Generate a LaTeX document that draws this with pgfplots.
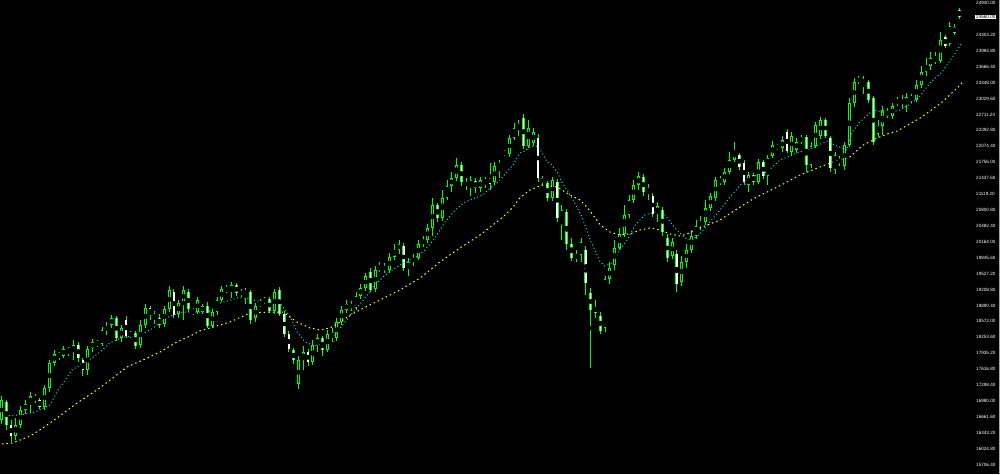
\documentclass[border=0pt]{standalone}
\usepackage{fontspec}
\setmainfont{Liberation Sans}
\usepackage{pgfplots}
\usepackage{pgfplotstable}
\pgfplotsset{compat=1.18}
\definecolor{cgreen}{RGB}{0,255,0}
\definecolor{ccyan}{RGB}{0,230,245}
\definecolor{cyel}{RGB}{255,255,0}

\pgfplotstableread{
i o h l c
0 16600 17080 16520 17000
1 16960 17000 16400 16500
2 16500 16600 16160 16280
3 16280 16640 16200 16500
4 16500 16880 16440 16800
5 16800 17000 16720 16920
6 16920 17160 16740 17080
7 17080 17120 16940 17000
8 17000 17040 16820 16860
9 16860 17300 16800 17240
10 17240 17800 17160 17740
11 17740 18000 17680 17920
12 17920 17960 17800 17880
13 17880 18080 17840 18020
14 18020 18060 17880 17960
15 17960 18200 17800 18100
16 18100 18160 17760 17840
17 17800 17840 17480 17600
18 17600 18080 17500 18020
19 18040 18220 17960 18160
20 18160 18200 18060 18100
21 18120 18460 18080 18400
22 18400 18560 18300 18480
23 18500 18700 18440 18640
24 18640 18680 18180 18240
25 18240 18500 18160 18440
26 18600 18680 18240 18280
27 18280 18380 18240 18340
28 18340 18380 18020 18080
29 18100 18600 18040 18500
30 18500 18920 18440 18840
31 18840 18880 18600 18720
32 18720 18780 18520 18640
33 18640 18720 18440 18500
34 18520 18880 18460 18820
35 18820 19280 18760 19200
36 19160 19220 18640 18700
37 18720 19000 18640 18940
38 18940 19280 18600 19200
39 19160 19220 18760 18820
40 18800 18840 18700 18740
41 18760 19060 18720 19000
42 18760 18920 18720 18880
43 18880 18960 18440 18480
44 18480 18820 18440 18760
45 18760 19060 18700 19000
46 19000 19280 18960 19220
47 19240 19300 19140 19180
48 19180 19360 19040 19300
49 19300 19340 19080 19140
50 19160 19220 19060 19120
51 19120 19240 18920 19180
52 19160 19200 18520 18600
53 18640 18940 18560 18880
54 18880 19020 18860 18960
55 18960 19060 18920 19000
56 19020 19060 18740 18780
57 18780 19220 18720 19160
58 19200 19260 18680 18720
59 18720 18780 18260 18320
60 18320 18380 17960 18020
61 18000 18040 17720 17800
62 17320 17880 17220 17800
63 17800 18080 17600 17960
64 17960 18020 17680 17760
65 17760 18200 17700 18100
66 18100 18320 17960 18240
67 18240 18280 17880 18000
68 18000 18400 17960 18320
69 18320 18440 18160 18240
70 18240 18640 18180 18560
71 18560 18880 18500 18800
72 18800 19000 18740 18920
73 18920 18980 18780 18840
74 18840 19160 18800 19080
75 19080 19320 19020 19240
76 19240 19540 19180 19480
77 19560 19640 19160 19200
78 19220 19680 19160 19600
79 19600 19760 19560 19680
80 19680 19740 19540 19600
81 19600 19940 19540 19860
82 19860 20120 19800 20000
83 20000 20200 19920 20120
84 20080 20140 19580 19640
85 19640 19840 19480 19760
86 19760 19920 19680 19840
87 19840 20200 19800 20120
88 20120 20280 20060 20200
89 20200 20520 20140 20440
90 20440 21040 20280 20900
91 20900 20940 20560 20640
92 20640 21200 20580 21040
93 21040 21400 21000 21280
94 21280 21560 21160 21440
95 21440 21840 21380 21700
96 21700 21760 21280 21360
97 21360 21440 21200 21280
98 21280 21480 21080 21400
99 21380 21440 21140 21240
100 21240 21460 21160 21400
101 21400 21460 21240 21340
102 21440 21740 21200 21320
103 21360 21760 21300 21680
104 21680 21800 21440 21720
105 21960 22000 21880 21920
106 21920 22300 21860 22240
107 22240 22540 22200 22440
108 22440 22600 22280 22520
109 22640 22720 22020 22080
110 22080 22600 22040 22440
111 22140 22440 22080 22360
112 22240 22320 21360 21440
113 21440 21480 21280 21340
114 21340 21380 20980 21040
115 21040 21460 20980 21400
116 21360 21420 20560 20640
117 20500 20900 20200 20800
118 20760 20820 20000 20120
119 20120 20240 19780 19840
120 19840 20000 19760 19900
121 19900 20240 19760 20160
122 20000 20080 19100 19340
123 19140 19240 17640 18800
124 18860 19000 18640 18740
125 18680 18760 18320 18380
126 18440 19480 18360 19420
127 19420 19760 19320 19640
128 19700 20200 19600 20040
129 20040 20440 20000 20320
130 20320 20900 20260 20700
131 20700 21100 20640 21000
132 21000 21400 20940 21300
133 21300 21560 21200 21480
134 21460 21520 21080 21160
135 21160 21320 21000 21240
136 21080 21140 20660 20720
137 20720 20960 20560 20880
138 20800 20860 20280 20360
139 20240 20320 19760 19840
140 19880 20240 19820 20160
141 19920 20000 19160 19320
142 19360 19880 19280 19760
143 19760 20120 19640 20000
144 20000 20400 19940 20280
145 20280 20600 20220 20480
146 20480 20680 20400 20560
147 20560 21000 20500 20840
148 20840 21140 20780 21080
149 21040 21460 20980 21400
150 21400 21480 21300 21360
151 21360 21640 21300 21560
152 21560 21960 21520 21800
153 21800 22160 21760 22000
154 21900 21940 21600 21660
155 21740 21800 21300 21360
156 21300 21560 21160 21500
157 21500 21540 21300 21360
158 21360 21820 21320 21760
159 21760 21800 21420 21480
160 21480 21900 21300 21840
161 21880 22180 21840 22100
162 22080 22120 22000 22040
163 22040 22280 21960 22200
164 22360 22420 21940 21980
165 21960 22360 21880 22280
166 22000 22240 21940 22160
167 22160 22300 22120 22260
168 22260 22300 21560 21700
169 21700 22160 21640 22080
170 22080 22560 22040 22500
171 22280 22660 22220 22600
172 22600 22640 22240 22280
173 22240 22280 21560 21640
174 21600 21960 21520 21900
175 21800 21880 21680 21760
176 21680 22160 21600 22100
177 22100 23040 22060 22940
178 22940 23440 22860 23360
179 23440 23480 23320 23360
180 23340 23480 23120 23400
181 23360 23400 22940 23000
182 23040 23080 22100 22160
183 22320 22600 22260 22480
184 22480 22880 22300 22800
185 22780 22840 22640 22680
186 22680 22940 22620 22880
187 22920 23060 22880 23000
188 23000 23100 22840 22920
189 22920 23140 22760 23060
190 23060 23120 22940 23000
191 23000 23400 22960 23300
192 23300 23680 23240 23560
193 23560 23840 23480 23680
194 23680 23960 23600 23840
195 23840 23960 23720 23780
196 23780 24360 23740 24200
197 24260 24300 24040 24080
198 24120 24560 24080 24480
199 24460 24520 24300 24340
200 24800 24840 24620 24660
}\candles

\begin{document}
\begin{tikzpicture}
\useasboundingbox (0,0) rectangle (1000pt,474pt);
\fill[black] (0,0) rectangle (1000pt,474pt);
\begin{axis}[
  at={(0,0)}, anchor=south west,
  scale only axis, width=966pt, height=474pt,
  xmin=-0.313, xmax=201.36, ymin=15520, ymax=25000,
  axis line style={draw=none},
  xtick=\empty,
  scaled y ticks=false,
  ytick={24940,24303.2,23984.8,23666.4,23348,23029.6,22711.2,22392.8,22074.4,21756,21437.6,21119.2,20800.8,20482.4,20164,19845.6,19527.2,19208.8,18890.4,18572,18253.6,17935.2,17616.8,17298.4,16980,16661.6,16343.2,16024.8,15706.4},
  extra y ticks={24660},
  extra y tick style={yticklabel style={fill=white, text=black, inner xsep=1pt, inner ysep=0.8pt, xshift=-1pt}},
  yticklabel pos=right,
  major tick length=0pt,
  yticklabel style={font=\fontsize{4.6}{5}\selectfont, text=white, anchor=west, inner sep=0pt, xshift=10pt,
    /pgf/number format/fixed, /pgf/number format/fixed zerofill, /pgf/number format/precision=2,
    /pgf/number format/1000 sep={}, /pgf/number format/assume math mode=true},
]
% wicks
\addplot[only marks, mark=none, forget plot,
  error bars/.cd, y dir=both, y explicit, error mark=none,
  error bar style={line width=0.9pt, draw=cgreen}]
  table[x=i, y expr={(\thisrow{h}+\thisrow{l})/2}, y error expr={(\thisrow{h}-\thisrow{l})/2}] {\candles};
% body outline
\addplot[only marks, mark=none, forget plot,
  error bars/.cd, y dir=both, y explicit, error mark=none,
  error bar style={line width=2.8pt, draw=cgreen}]
  table[x=i, y expr={(\thisrow{o}+\thisrow{c})/2}, y error expr={abs(\thisrow{o}-\thisrow{c})/2+8}] {\candles};
% bull bodies (black)
\addplot[only marks, mark=none, forget plot,
  restrict expr to domain={\thisrow{c}-\thisrow{o}}{1:100000},
  error bars/.cd, y dir=both, y explicit, error mark=none,
  error bar style={line width=1.2pt, draw=black}]
  table[x=i, y expr={(\thisrow{o}+\thisrow{c})/2}, y error expr={max(abs(\thisrow{o}-\thisrow{c})/2-12,0)}] {\candles};
% bear bodies (white)
\addplot[only marks, mark=none, forget plot,
  restrict expr to domain={\thisrow{c}-\thisrow{o}}{-100000:-1},
  error bars/.cd, y dir=both, y explicit, error mark=none,
  error bar style={line width=1.4pt, draw=white}]
  table[x=i, y expr={(\thisrow{o}+\thisrow{c})/2}, y error expr={max(abs(\thisrow{o}-\thisrow{c})/2-8,0)}] {\candles};
% fast MA (cyan)
\addplot[ccyan, line width=1pt, mark=none, dash pattern=on 1pt off 2.5pt] coordinates {
(0.1,16680) (3.9,16700) (7.0,16760) (10.1,16900) (11.8,17200) (13.3,17400) (14.7,17600) (16.4,17700)
(18.9,17840) (20.6,17960) (22.6,18140) (25.4,18260) (28.9,18300) (31.0,18400) (33.1,18540) (35.2,18680)
(37.9,18760) (40.0,18760) (43.1,18760) (44.6,18840) (45.6,18940) (47.1,18980) (49.2,19040) (51.3,19040)
(52.5,19000) (54.6,18960) (56.7,18960) (58.1,18940) (59.6,18760) (60.6,18600) (61.7,18360) (63.4,18160)
(65.4,18080) (67.5,18160) (69.6,18300) (71.7,18560) (73.8,18800) (75.9,19040) (78.0,19300) (80.1,19500)
(82.2,19640) (84.2,19760) (86.3,19840) (88.4,20000) (90.5,20240) (92.6,20560) (94.7,20800) (96.8,20960)
(98.9,21040) (100.5,21100) (102.0,21240) (103.7,21360) (105.5,21560) (106.8,21700) (108.2,21940) (109.3,21980)
(110.3,22060) (111.8,22080) (112.8,21960) (113.9,21760) (114.9,21700) (116.0,21560) (117.0,21360) (118.1,21200)
(119.1,21040) (120.1,20860) (121.2,20660) (122.9,20200) (125.0,19760) (126.0,19680) (127.5,19740) (129.1,20000)
(130.6,20200) (132.3,20500) (134.3,20700) (136.4,20760) (138.5,20700) (140.6,20440) (142.7,20240) (144.2,20200)
(145.8,20320) (147.9,20560) (150.0,20800) (152.1,21060) (154.8,21360) (157.3,21480) (159.8,21560) (162.5,21800)
(166.7,21960) (169.4,22040) (172.3,22180) (174.4,22080) (176.5,22000) (177.6,22360) (179.2,22560) (182.0,22800)
(184.9,22740) (187.6,22800) (189.7,22920) (191.8,23080) (193.8,23340) (196.4,23560) (198.4,23840) (200.5,24140)
};
% slow MA (yellow)
\addplot[cyel, line width=1pt, mark=none, dash pattern=on 1.5pt off 3pt] coordinates {
(0.1,16120) (2.2,16140) (3.9,16200) (6.0,16280) (8.0,16400) (11.6,16640) (15.8,16940) (19.9,17200)
(22.7,17400) (26.2,17660) (29.5,17800) (33.1,17960) (36.6,18160) (39.4,18280) (41.4,18380) (47.7,18560)
(51.9,18740) (56.1,18760) (58.8,18760) (60.2,18660) (61.7,18560) (64.4,18440) (66.5,18400) (68.6,18440)
(70.7,18560) (72.8,18700) (74.8,18800) (79.0,19000) (83.2,19200) (87.4,19440) (91.5,19760) (95.7,20040)
(99.9,20300) (104.7,20660) (106.8,20860) (108.2,21040) (110.3,21200) (112.8,21300) (116.0,21260) (117.0,21200)
(118.7,21100) (120.8,21000) (122.2,20860) (123.5,20700) (125.0,20500) (127.0,20360) (129.1,20300) (131.2,20320)
(133.3,20400) (135.4,20440) (137.5,20400) (139.6,20320) (141.7,20280) (143.7,20340) (145.8,20440) (150.0,20600)
(154.2,20860) (156.9,21020) (163.2,21320) (166.7,21500) (170.3,21640) (173.6,21760) (177.1,21860) (179.9,22100)
(182.8,22240) (184.9,22320) (187.0,22380) (191.8,22640) (196.4,22960) (199.5,23240) (200.7,23360)
};
\end{axis}
\draw[gray!70, line width=1pt] (999.5pt,0) -- (999.5pt,474pt);
\end{tikzpicture}
\end{document}
